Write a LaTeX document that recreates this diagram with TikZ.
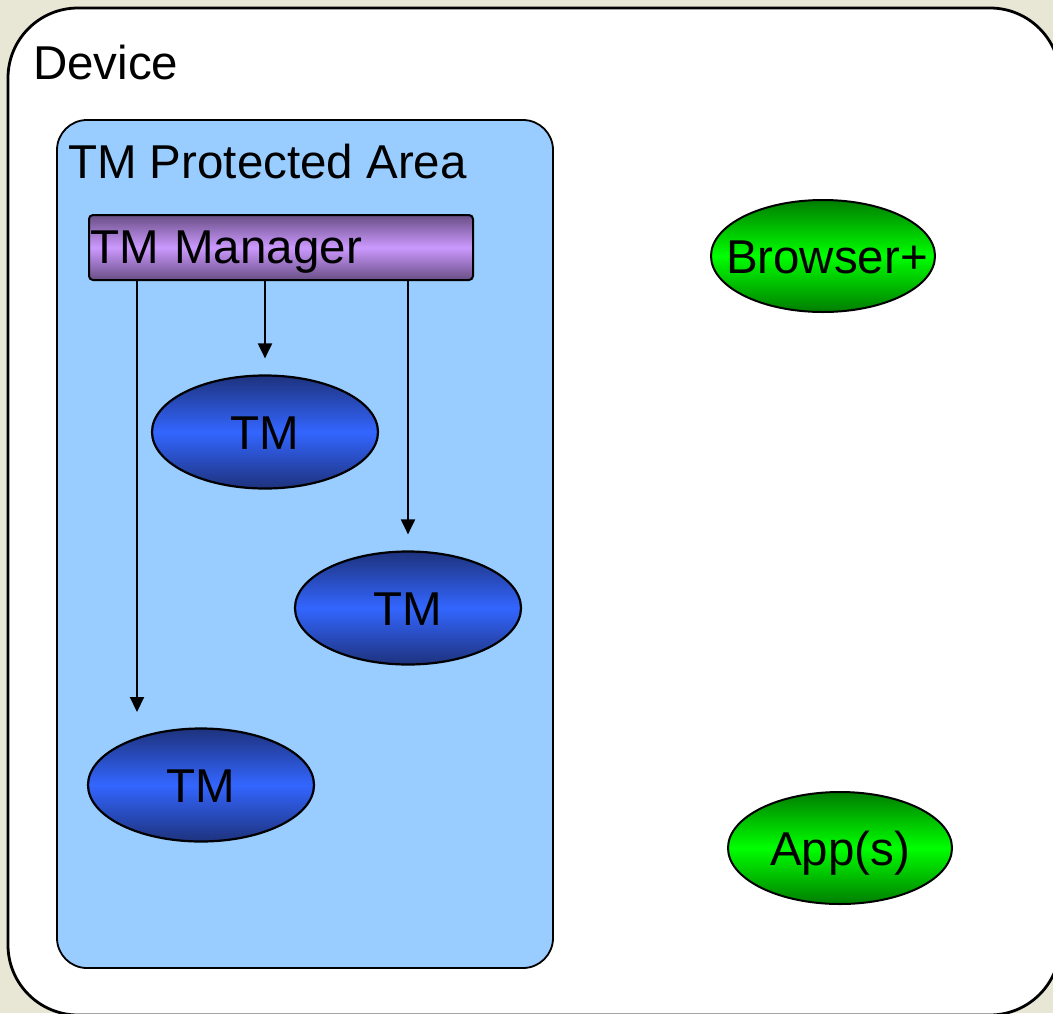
\documentclass[tikz,border=0pt]{standalone}
\usepackage{fontspec}
\setmainfont{Liberation Sans}
\usetikzlibrary{shapes.geometric,arrows.meta}
\definecolor{bgbeige}{RGB}{232,230,212}
\definecolor{areablue}{RGB}{153,204,255}
\definecolor{mgrlight}{RGB}{204,153,255}
\definecolor{mgrdark}{RGB}{104,78,132}
\definecolor{tmlight}{RGB}{51,102,255}
\definecolor{tmdark}{RGB}{30,50,125}
\definecolor{grlight}{RGB}{0,255,0}
\definecolor{grdark}{RGB}{0,125,0}
\tikzset{
  big/.style={font=\fontsize{47.5}{56}\selectfont},
  tmnode/.style={ellipse, draw=black, line width=2.2pt, minimum width=226pt, minimum height=113pt, inner sep=0pt,
     top color=tmdark, bottom color=tmdark, middle color=tmlight, big, text height=34pt, text depth=0pt},
  grnode/.style={ellipse, draw=black, line width=2pt, minimum width=224pt, minimum height=112pt, inner sep=0pt,
     top color=grdark, bottom color=grdark, middle color=grlight, big, text height=34pt, text depth=0pt},
  mgrbox/.style={draw=black, line width=2pt, rounded corners=4pt, minimum width=384pt, minimum height=65pt,
     text width=382pt, align=left, inner xsep=1pt, inner ysep=0pt, text height=34pt, text depth=3pt,
     top color=mgrdark, bottom color=mgrdark, middle color=mgrlight, big},
  arr/.style={-{Triangle[length=15pt,width=14pt]}, line width=2pt}
}
\begin{document}
\begin{tikzpicture}[x=1pt,y=-1pt]
\useasboundingbox (0,0) rectangle (1053,1013);
\clip (0,0) rectangle (1053,1013);
\fill[bgbeige] (0,0) rectangle (1053,1013);
% Device
\draw[line width=2.8pt, fill=white, rounded corners=70pt] (8,8) rectangle (1060,1015);
\node[big, anchor=base west, inner sep=0pt] (devlabel) at (33,79) {Device};
% Protected area
\draw[line width=1.8pt, fill=areablue, rounded corners=30pt] (57,120) rectangle (553,968);
\node[big, anchor=base west, inner sep=0pt] (arealabel) at (68,178) {TM Protected Area};
% Manager
\node[mgrbox] (mgr) at (281,247.5) {TM Manager};
% TMs
\node[tmnode] (tm1) at (265,432) {TM};
\node[tmnode] (tm2) at (408,608) {TM};
\node[tmnode] (tm3) at (201,785) {TM};
% Green
\node[grnode] (browser) at (823,256) {\makebox[0pt]{\kern8pt Browser+}};
\node[grnode] (apps) at (840,848) {App(s)};
% Arrows
\coordinate (a3) at (137,712);
\draw[arr, shorten >=16pt] (mgr.south -| tm1.north) -- (tm1.north);
\draw[arr, shorten >=16pt] (mgr.south -| tm2.north) -- (tm2.north);
\draw[arr] (mgr.south -| a3) -- (a3);
\end{tikzpicture}
\end{document}
